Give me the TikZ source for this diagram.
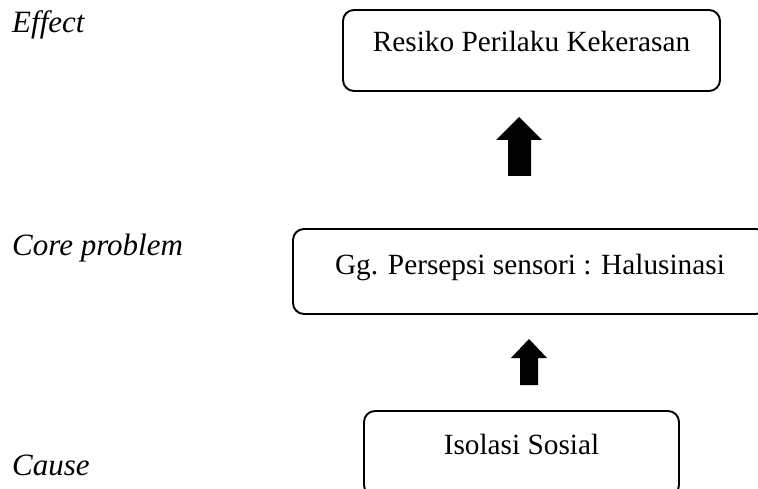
\documentclass[tikz,border=0pt]{standalone}
\usepackage{fontspec}
\setmainfont{Liberation Serif}
\begin{document}
\begin{tikzpicture}[x=1pt,y=-1pt,
  boxnode/.style={draw=black, line width=1.9pt, rounded corners=11pt, anchor=base,
    inner xsep=0pt, inner ysep=0pt, font=\fontsize{29.3pt}{35pt}\selectfont},
  lvl/.style={anchor=base west, inner sep=0pt, font=\fontsize{31pt}{37pt}\selectfont\itshape},
  blockarrow/.style={fill=black, draw=none}]
\useasboundingbox (0,0) rectangle (758,489);
\clip (0,0) rectangle (758,489);
% level labels
\node[lvl] (effect) at (12,33) {Effect};
\node[lvl] (core) at (12,255) {Core problem};
\node[lvl] (cause) at (12,475) {Cause};
% boxes
\node[boxnode, minimum width=377pt, text height=42pt, text depth=39pt] (rpk) at (531.5,52) {Resiko Perilaku Kekerasan};
\node[boxnode, minimum width=474pt, text height=46pt, text depth=39pt] (gps) at (530,275) {Gg. Persepsi sensori : Halusinasi};
\node[boxnode, minimum width=315pt, text height=43pt, text depth=42pt] (iso) at (521.5,454) {Isolasi Sosial};
% block arrows
\fill[blockarrow] (508,176) -- (508,140) -- (496,140) -- (519,117) -- (542,140) -- (531,140) -- (531,176) -- cycle;
\fill[blockarrow] (520,385) -- (520,358) -- (511,358) -- (529,339) -- (547,358) -- (538,358) -- (538,385) -- cycle;
\end{tikzpicture}
\end{document}
